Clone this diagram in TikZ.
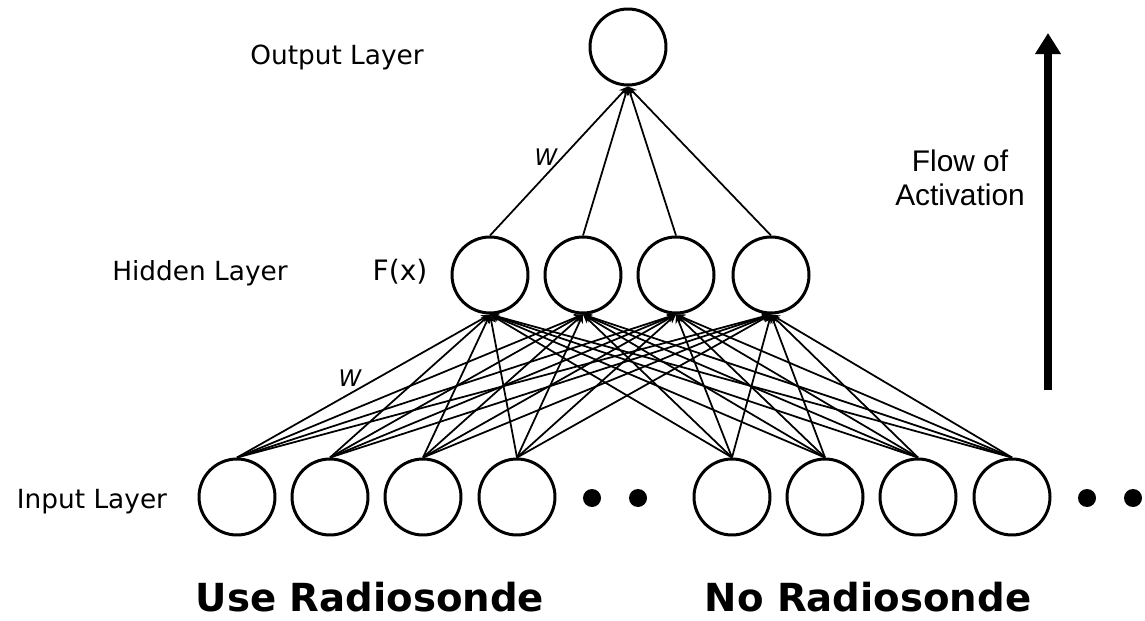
\documentclass[tikz,border=0pt]{standalone}
\usepackage{fontspec}
\setmainfont{DejaVu Sans}
\newfontfamily\flowfont{Liberation Sans}
\usepackage{tikz}
\usetikzlibrary{positioning,arrows.meta}
\tikzset{
    neuron/.style={circle, draw, line width=1.7pt, minimum size=1.52cm, inner sep=0pt},
    more dot/.style={circle, fill=black, minimum size=0.36cm, inner sep=0pt},
    layer label/.style={font=\fontsize{15}{17}\selectfont, inner sep=0pt},
    weight label/.style={font=\fontsize{13}{15}\selectfont\itshape, inner sep=0pt},
    group label/.style={font=\fontsize{22}{26}\selectfont\bfseries, inner sep=0pt},
    link/.style={line width=1pt, -{Stealth[length=5pt, width=4.5pt]}}
}

\begin{document}
\begin{tikzpicture}[x=0.02cm, y=-0.02cm]
    \useasboundingbox (0,0) rectangle (1145,621);

    % output layer
    \node[neuron] (o) at (628,47) {};

    % hidden layer
    \node[neuron] (h1) at (490,275) {};
    \node[neuron] (h2) at (583,275) {};
    \node[neuron] (h3) at (676,275) {};
    \node[neuron] (h4) at (771,275) {};

    % input layer
    \node[neuron] (i1) at (237,497) {};
    \node[neuron] (i2) at (330,497) {};
    \node[neuron] (i3) at (423,497) {};
    \node[neuron] (i4) at (517,497) {};
    \node[neuron] (i5) at (732,497) {};
    \node[neuron] (i6) at (825,497) {};
    \node[neuron] (i7) at (918,497) {};
    \node[neuron] (i8) at (1012,497) {};
    \node[more dot] (d1) at (592,498) {};
    \node[more dot] (d2) at (638,498) {};
    \node[more dot] (d3) at (1087,498) {};
    \node[more dot] (d4) at (1133,498) {};

    % weights
    \foreach \h in {1,...,4}{
        \draw[link] (h\h.north) -- (o.south);
        \foreach \i in {1,...,8}
            \draw[link] (i\i.north) -- (h\h.south);
    }
    \node[weight label] (w1) at (546,157) {W};
    \node[weight label] (w2) at (350,378) {W};

    % labels
    \node[layer label] (outlbl) at (337,57) {Output Layer};
    \node[layer label] (hidlbl) at (200,273) {Hidden Layer};
    \node[layer label] (inlbl) at (92,502) {Input Layer};
    \node[font=\fontsize{16}{19}\selectfont, inner sep=0pt] (fx) at (400,272) {F(x)};
    \node[group label] (uselbl) at (370,597) {Use Radiosonde};
    \node[group label] (nolbl) at (868,597) {No Radiosonde};

    % flow arrow
    \coordinate (flowbot) at (1048,390);
    \coordinate (flowtop) at (1048,33);
    \draw[line width=4.5pt, -{Triangle[length=12pt, width=14pt]}] (flowbot) -- (flowtop);
    \node[font=\flowfont\fontsize{17}{19}\selectfont, align=center, inner sep=0pt] (flowlbl) at (960,178) {Flow of\\Activation};
\end{tikzpicture}
\end{document}
